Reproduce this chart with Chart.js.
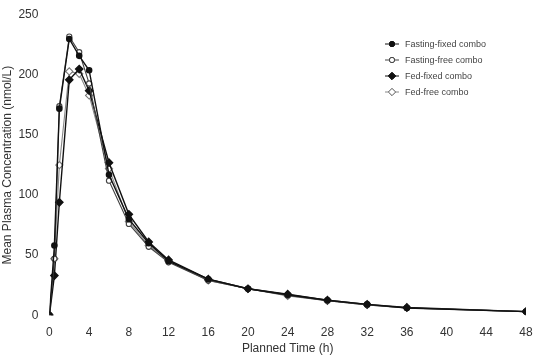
<!DOCTYPE html>
<html>
<head>
<meta charset="utf-8">
<script src="https://cdn.jsdelivr.net/npm/chart.js@4"></script>
<style>
  html, body { margin: 0; padding: 0; background: #fff; }
  #wrap { width: 544px; height: 364px; }
</style>
</head>
<body>
<div id="wrap"><canvas id="pkChart"></canvas></div>
<script>
const times = [0, 0.5, 1, 2, 3, 4, 6, 8, 10, 12, 16, 20, 24, 28, 32, 36, 48];
const fastingFixed = [0, 58, 172, 230, 216, 204, 117, 80, 60, 45, 30, 22, 17, 12.5, 9, 6, 3];
const fastingFree  = [0, 47, 174, 232, 219, 193, 112, 76, 57, 44, 29, 22, 16.5, 12, 8.5, 6, 3];
const fedFixed     = [0, 33, 94, 196, 205, 187, 127, 84, 61, 46, 30, 22, 17.5, 12.5, 9, 6.5, 3];
const fedFree      = [0, 47, 125, 203, 201, 183, 122, 78, 58, 45, 29, 22, 16, 12, 8.5, 6, 3];
const xTicks = [0, 4, 8, 12, 16, 20, 24, 28, 32, 36, 40, 44, 48];

const pts = arr => arr.map((v, i) => ({ x: times[i], y: v }));

// legend drawn by hand: short line with the marker on it
const lineLegend = {
  id: 'lineLegend',
  afterDraw(chart) {
    const c = chart.ctx;
    c.save();
    chart.data.datasets.forEach((ds, i) => {
      const x = 392, y = 44 + i * 16;
      c.strokeStyle = ds.borderColor;
      c.lineWidth = 1;
      c.beginPath();
      c.moveTo(x - 7, y);
      c.lineTo(x + 7, y);
      c.stroke();
      Chart.helpers.drawPoint(c, {
        pointStyle: ds.pointStyle,
        radius: ds.pointRadius,
        borderWidth: 1
      }, x, y);
      c.fillStyle = ds.pointBackgroundColor;
      c.fill();
      c.strokeStyle = ds.pointBorderColor;
      c.stroke();
      c.fillStyle = '#444';
      c.font = '9px "Liberation Sans", Arial, sans-serif';
      c.textBaseline = 'middle';
      c.fillText(ds.label, x + 13, y + 0.5);
    });
    c.restore();
  }
};

new Chart(document.getElementById('pkChart'), {
  type: 'line',
  data: {
    datasets: [
      {
        label: 'Fasting-fixed combo',
        data: pts(fastingFixed),
        borderColor: '#111',
        borderWidth: 1.4,
        pointStyle: 'circle',
        pointRadius: 2.6,
        pointBackgroundColor: '#111',
        pointBorderColor: '#111'
      },
      {
        label: 'Fasting-free combo',
        data: pts(fastingFree),
        borderColor: '#444',
        borderWidth: 1.1,
        pointStyle: 'circle',
        pointRadius: 2.6,
        pointBackgroundColor: '#fff',
        pointBorderColor: '#444'
      },
      {
        label: 'Fed-fixed combo',
        data: pts(fedFixed),
        borderColor: '#111',
        borderWidth: 1.4,
        pointStyle: 'rectRot',
        pointRadius: 3.6,
        pointBackgroundColor: '#111',
        pointBorderColor: '#111'
      },
      {
        label: 'Fed-free combo',
        data: pts(fedFree),
        borderColor: '#888',
        borderWidth: 1.1,
        pointStyle: 'rectRot',
        pointRadius: 3.6,
        pointBackgroundColor: '#fff',
        pointBorderColor: '#777'
      }
    ]
  },
  options: {
    responsive: true,
    maintainAspectRatio: false,
    animation: false,
    layout: { padding: { top: 15, right: 18, left: 0, bottom: 6 } },
    plugins: {
      legend: { display: false },
      tooltip: { enabled: false }
    },
    scales: {
      x: {
        type: 'linear',
        min: 0,
        max: 48,
        afterBuildTicks: axis => { axis.ticks = xTicks.map(v => ({ value: v })); },
        grid: { display: false },
        border: { display: false },
        ticks: { color: '#333', font: { size: 12, family: '"Liberation Sans", Arial' }, padding: 2 },
        title: {
          display: true,
          text: 'Planned Time (h)',
          color: '#333',
          font: { size: 12, family: '"Liberation Sans", Arial' },
          padding: { top: 0, bottom: 2 }
        }
      },
      y: {
        min: 0,
        max: 250,
        ticks: { stepSize: 50, color: '#333', font: { size: 12, family: '"Liberation Sans", Arial' }, padding: 3 },
        grid: { display: false },
        border: { display: false },
        title: {
          display: true,
          text: 'Mean Plasma Concentration (nmol/L)',
          color: '#333',
          font: { size: 12, family: '"Liberation Sans", Arial' },
          padding: { top: 0, bottom: 1 }
        }
      }
    }
  },
  plugins: [lineLegend]
});
</script>
</body>
</html>
